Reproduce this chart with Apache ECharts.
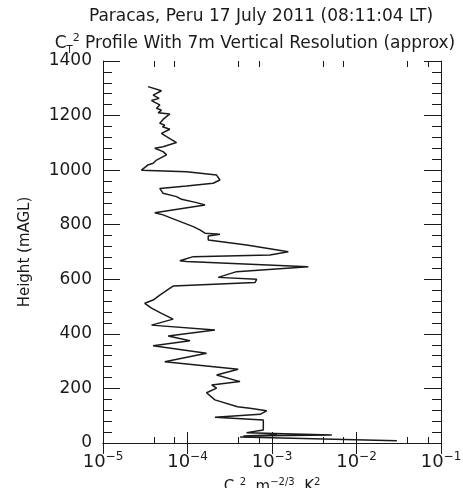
<!DOCTYPE html>
<html><head><meta charset="utf-8">
<script src="https://cdn.jsdelivr.net/npm/echarts@6/dist/echarts.min.js"></script>
<style>html,body{margin:0;padding:0;background:#fff}#c{width:463px;height:488px}</style>
</head><body><div id="c"></div>
<script>
// Height above ground (m) and CT2 (m^-2/3 K^2), traced top-down
const heights = [1306,1291,1275,1263,1255,1239,1227,1220,1210,1206,1186,1172,1165,1159,1150,1135,1123,1101,1086,1080,1068,1056,1043,1037,1025,1019,1000,994,982,964,952,942,933,915,903,893,881,872,844,836,817,793,781,769,765,759,744,726,714,701,689,683,668,665,646,628,607,600,588,575,563,542,524,512,494,475,454,432,414,392,375,356,329,298,270,266,249,225,213,201,184,158,133,127,118,105,94,84,48,38,29,26,30,22,8];
const ct2 = [3.41e-5,4.92e-5,3.92e-5,4.61e-5,3.75e-5,4.70e-5,4.30e-5,4.92e-5,4.49e-5,6.18e-5,5.14e-5,4.70e-5,5.38e-5,5.06e-5,6.18e-5,4.92e-5,5.65e-5,7.41e-5,5.14e-5,4.10e-5,5.14e-5,5.65e-5,4.70e-5,4.30e-5,3.92e-5,3.41e-5,2.85e-5,9.75e-5,2.21e-4,2.42e-4,2.01e-4,9.75e-5,4.70e-5,5.14e-5,7.41e-5,8.49e-5,1.28e-4,1.61e-4,4.10e-5,5.14e-5,7.41e-5,1.17e-4,1.40e-4,1.61e-4,2.42e-4,1.76e-4,1.76e-4,5.01e-4,8.65e-4,1.56e-3,9.46e-4,1.17e-4,8.11e-5,9.75e-5,2.69e-3,3.81e-4,2.31e-4,6.59e-4,6.28e-4,6.76e-5,5.91e-5,4.70e-5,3.92e-5,3.12e-5,3.75e-5,4.92e-5,6.76e-5,3.75e-5,2.11e-4,5.91e-5,1.07e-4,3.92e-5,1.68e-4,5.38e-5,3.98e-4,4.18e-4,2.21e-4,4.18e-4,1.93e-4,2.21e-4,1.68e-4,2.11e-4,3.90e-4,5.48e-4,8.65e-4,7.21e-4,2.11e-4,7.89e-4,7.89e-4,5.0e-4,5.1e-3,4.6e-4,1.14e-3,4.2e-4,3.0e-2];
const xDecades = [1e-5,1e-4,1e-3,1e-2,1e-1];
const xMinorTicks = [4e-5,7e-5,4e-4,7e-4,4e-3,7e-3,4e-2,7e-2];
const yMin = 0, yMax = 1400, yStep = 200;
const titleLine1 = 'Paracas, Peru 17 July 2011 (08:11:04 LT)';
const titleLine2 = ' Profile With 7m Vertical Resolution (approx)';
const yName = 'Height (mAGL)';

const FONT = 'DejaVu Sans';
const INK = '#1a1a1a';
const gridRect = {left: 103, right: 22, top: 61, bottom: 45, outerBoundsMode: 'none', containLabel: false};

const chart = echarts.init(document.getElementById('c'), null, {renderer: 'canvas'});
const lineStyle = {color: INK, width: 1};
const supRich = {
  b: {fontFamily: FONT, fontSize: 18, color: INK, lineHeight: 22},
  s: {fontFamily: FONT, fontSize: 12, color: INK, verticalAlign: 'top', lineHeight: 12}
};
function mkRich(size) {
  return {
    n: {fontFamily: FONT, fontSize: size, fontWeight: 'normal', color: INK, lineHeight: size + 5},
    sub: {fontFamily: FONT, fontSize: Math.round(size * 0.6), fontWeight: 'normal', color: INK, verticalAlign: 'bottom', lineHeight: Math.round(size * 0.6)},
    sup: {fontFamily: FONT, fontSize: Math.round(size * 0.65), fontWeight: 'normal', color: INK, verticalAlign: 'top', lineHeight: Math.round(size * 0.65)}
  };
}
function expLabel(v) {
  const e = Math.round(Math.log10(v));
  return '{b|10}{s|' + (e < 0 ? '\u2212' : '') + Math.abs(e) + '}';
}
const logBase = {type: 'log', logBase: 10, min: xDecades[0], max: xDecades[xDecades.length - 1]};

chart.setOption({
  animation: false,
  backgroundColor: '#fff',
  title: [
    {text: titleLine1, left: 256, top: 3, textAlign: 'center',
     textStyle: {fontFamily: FONT, fontSize: 17, fontWeight: 'normal', color: INK}},
    {text: '{n|C}{sub|T}{sup|2}{n|' + titleLine2 + '}', left: 250, top: 28, textAlign: 'center',
     textStyle: {fontWeight: 'normal', rich: mkRich(17)}}
  ],
  grid: [
    Object.assign({}, gridRect),
    Object.assign({}, gridRect)
  ],
  xAxis: [
    Object.assign({}, logBase, {gridIndex: 0, position: 'bottom',
      axisLine: {show: true, lineStyle},
      axisTick: {show: true, inside: true, length: 11, lineStyle, customValues: xDecades},
      axisLabel: {show: true, margin: 8, formatter: expLabel, rich: supRich, customValues: xDecades},
      splitLine: {show: false},
      name: '{n|C}{sub|T}{sup|2}{n|  m}{sup|\u22122/3}{n|  K}{sup|2}',
      nameLocation: 'middle', nameGap: 34,
      nameTextStyle: {rich: mkRich(15)}
    }),
    Object.assign({}, logBase, {gridIndex: 0, position: 'top',
      axisLine: {show: true, lineStyle},
      axisTick: {show: true, inside: true, length: 11, lineStyle, customValues: xDecades},
      axisLabel: {show: false}, splitLine: {show: false}
    }),
    Object.assign({}, logBase, {gridIndex: 1, position: 'bottom',
      axisLine: {show: false},
      axisTick: {show: true, inside: true, length: 6, lineStyle, customValues: xMinorTicks},
      axisLabel: {show: false}, splitLine: {show: false}
    }),
    Object.assign({}, logBase, {gridIndex: 1, position: 'top',
      axisLine: {show: false},
      axisTick: {show: true, inside: true, length: 6, lineStyle, customValues: xMinorTicks},
      axisLabel: {show: false}, splitLine: {show: false}
    })
  ],
  yAxis: [
    {type: 'value', gridIndex: 0, position: 'left', min: yMin, max: yMax, interval: yStep,
     axisLine: {show: true, lineStyle},
     axisTick: {show: true, inside: true, length: 17, lineStyle},
     minorTick: {show: true, splitNumber: 5, length: 9, lineStyle},
     axisLabel: {show: true, margin: 11, fontFamily: FONT, fontSize: 17, color: INK, formatter: v => String(v)},
     splitLine: {show: false},
     name: yName, nameLocation: 'middle', nameGap: 70,
     nameTextStyle: {fontFamily: FONT, fontSize: 15, color: INK}},
    {type: 'value', gridIndex: 0, position: 'right', min: yMin, max: yMax, interval: yStep,
     axisLine: {show: true, lineStyle},
     axisTick: {show: true, inside: true, length: 17, lineStyle},
     minorTick: {show: true, splitNumber: 5, length: 9, lineStyle},
     axisLabel: {show: false}, splitLine: {show: false}},
    {type: 'value', gridIndex: 1, min: yMin, max: yMax, show: false}
  ],
  series: [{
    type: 'line', xAxisIndex: 0, yAxisIndex: 0,
    data: heights.map((h, i) => [ct2[i], h]),
    showSymbol: false, symbol: 'none', smooth: false,
    lineStyle: {color: INK, width: 1.5}
  }]
});
</script></body></html>
